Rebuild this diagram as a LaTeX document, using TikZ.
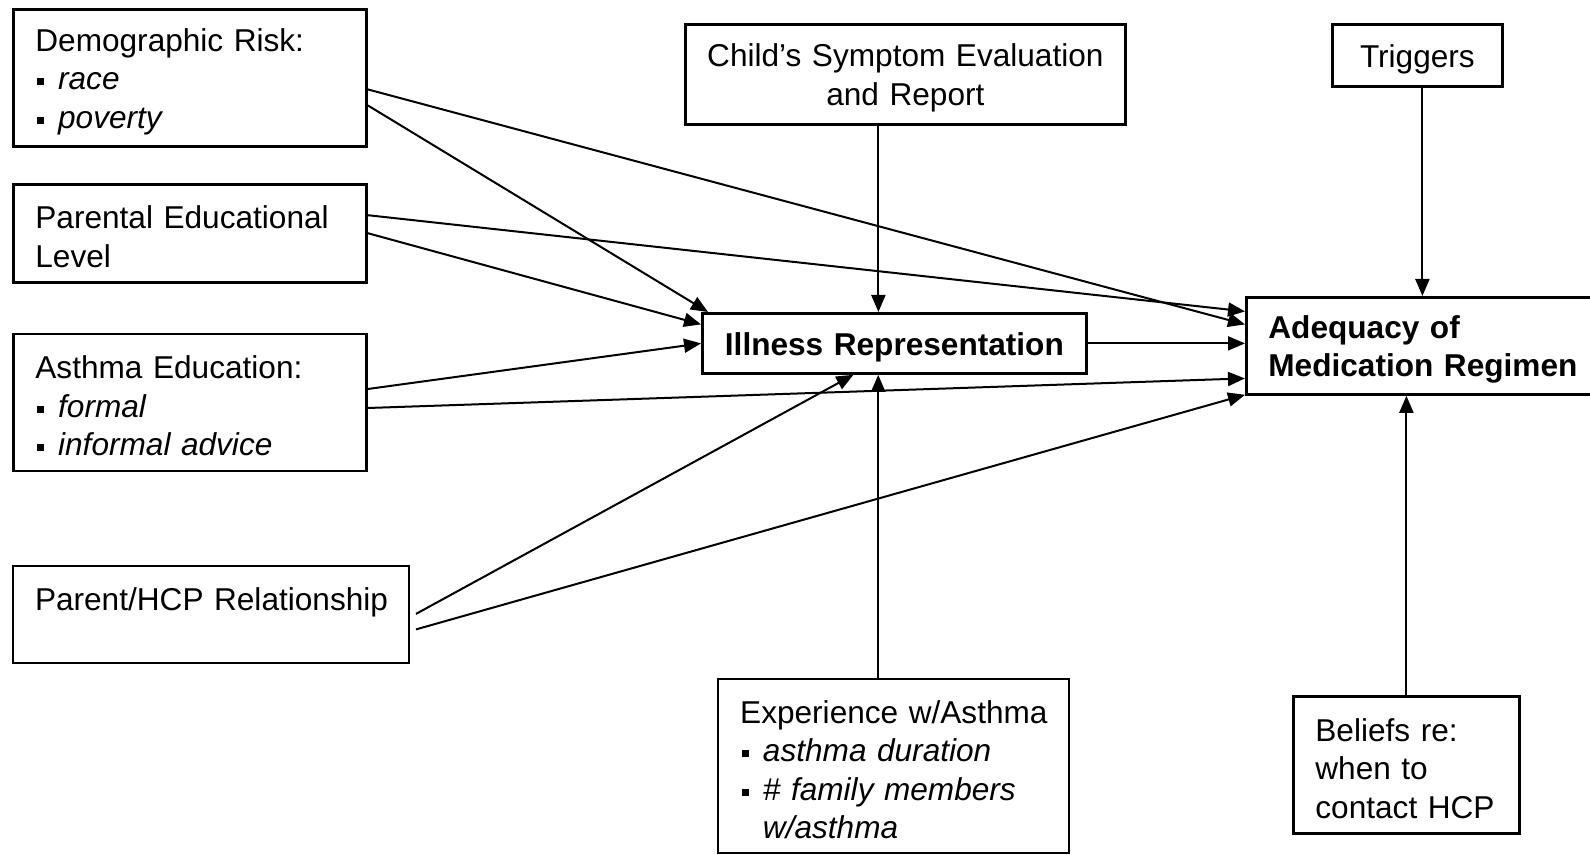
\documentclass[tikz,border=0pt]{standalone}
\usepackage{fontspec}
\setmainfont{Liberation Sans}
\usepackage{tikz}
\usetikzlibrary{arrows.meta, calc, positioning}
\hyphenpenalty=10000
\exhyphenpenalty=10000
\newcommand{\sqbullet}{\makebox[0.72em][l]{\hspace{1pt}\rule[2.3pt]{3.5pt}{3.5pt}}}

\begin{document}
\begin{tikzpicture}[
    x=0.5pt, y=-0.5pt,
    every node/.style={
        draw, line width=1.4pt, anchor=north west, inner xsep=11pt, inner ysep=0pt,
        font=\fontsize{15.8}{19.25}\selectfont, align=left,
        execute at begin node={\rule{0pt}{15pt}}
    },
    mid/.style={align=center, inner xsep=4pt},
    key/.style={mid, font=\fontsize{15.8}{19.25}\selectfont\bfseries},
    edge/.style={-{Triangle[length=8.5pt, width=7pt]}, line width=1pt},
]
\useasboundingbox (0,0) rectangle (1590,855);

% Column 1: background factors
\node[text width=154.5pt, minimum height=68.5pt] (demo) at (12,8)
    {Demographic Risk:\\\sqbullet\textit{race}\\\sqbullet\textit{poverty}};
\node[text width=154.5pt, minimum height=49pt, below=17.5pt of demo.south west, anchor=north west] (parentedu)
    {Parental Educational\\Level};
\node[text width=154.5pt, minimum height=68.5pt, below=24.5pt of parentedu.south west, anchor=north west] (asthmaedu)
    {Asthma Education:\\\sqbullet\textit{formal}\\\sqbullet\textit{informal~advice}};
\node[line width=1pt, text width=176pt, minimum height=48.5pt, below=46.5pt of asthmaedu.south west, anchor=north west] (hcprel)
    {Parent/HCP~Relationship\\\mbox{}};

% Column 2: illness representation
\node[mid, text width=212pt, minimum height=50pt] (childeval) at (684,23)
    {Child’s~Symptom~Evaluation\\and Report};
\node[key, text width=184pt, minimum height=30pt] (illness) at (701,312)
    {Illness~Representation};
\node[line width=1.2pt, text width=153.5pt, minimum height=87pt] (experience) at (717,678)
    {Experience~w/Asthma\\\sqbullet\textit{asthma~duration}\\\sqbullet\textit{\#~family~members}\\\hspace*{0.72em}\textit{w/asthma}};

% Column 3: outcome
\node[mid, text width=77pt, minimum height=31pt] (triggers) at (1331,23) {Triggers};
\node[text width=155.5pt, minimum height=48.5pt, font=\fontsize{15.8}{19.25}\selectfont\bfseries] (adequacy) at (1245,296)
    {Adequacy of\\Medication~Regimen};
\node[text width=91pt, minimum height=68.5pt] (beliefs) at (1292,695)
    {Beliefs re:\\when to\\contact~HCP};

% Edges into Illness Representation
\draw[edge] ([yshift=-13.75pt]demo.east) -- ([xshift=3.5pt]illness.north west);
\draw[edge] (parentedu.east) -- ([yshift=9.5pt]illness.west);
\draw[edge] ([yshift=6.75pt]asthmaedu.east) -- (illness.west);
\draw[edge] ([xshift=3pt,yshift=0.5pt]hcprel.east) -- ([xshift=-20.5pt]illness.south);
\draw[edge] ([xshift=-13.5pt]childeval.south) -- ([xshift=-13.5pt]childeval.south |- illness.north);
\draw[edge] ([xshift=-7.75pt]experience.north) -- ([xshift=-7.75pt]experience.north |- illness.south);

% Edges into Adequacy of Medication Regimen
\draw[edge] ([yshift=-5.75pt]demo.east) -- ([yshift=10.75pt]adequacy.west);
\draw[edge] ([yshift=9pt]parentedu.east) -- ([yshift=17.25pt]adequacy.west);
\draw[edge] ([yshift=-2.75pt]asthmaedu.east) -- ([yshift=-16.25pt]adequacy.west);
\draw[edge] ([xshift=3pt,yshift=-7.25pt]hcprel.east) -- ([yshift=0.5pt]adequacy.south west);
\draw[edge] (illness.east) -- (illness.east -| adequacy.west);
\draw[edge] ([xshift=2.5pt]triggers.south) -- ([xshift=2.5pt]triggers.south |- adequacy.north);
\draw[edge] (beliefs.north) -- (beliefs.north |- adequacy.south);
\end{tikzpicture}
\end{document}
